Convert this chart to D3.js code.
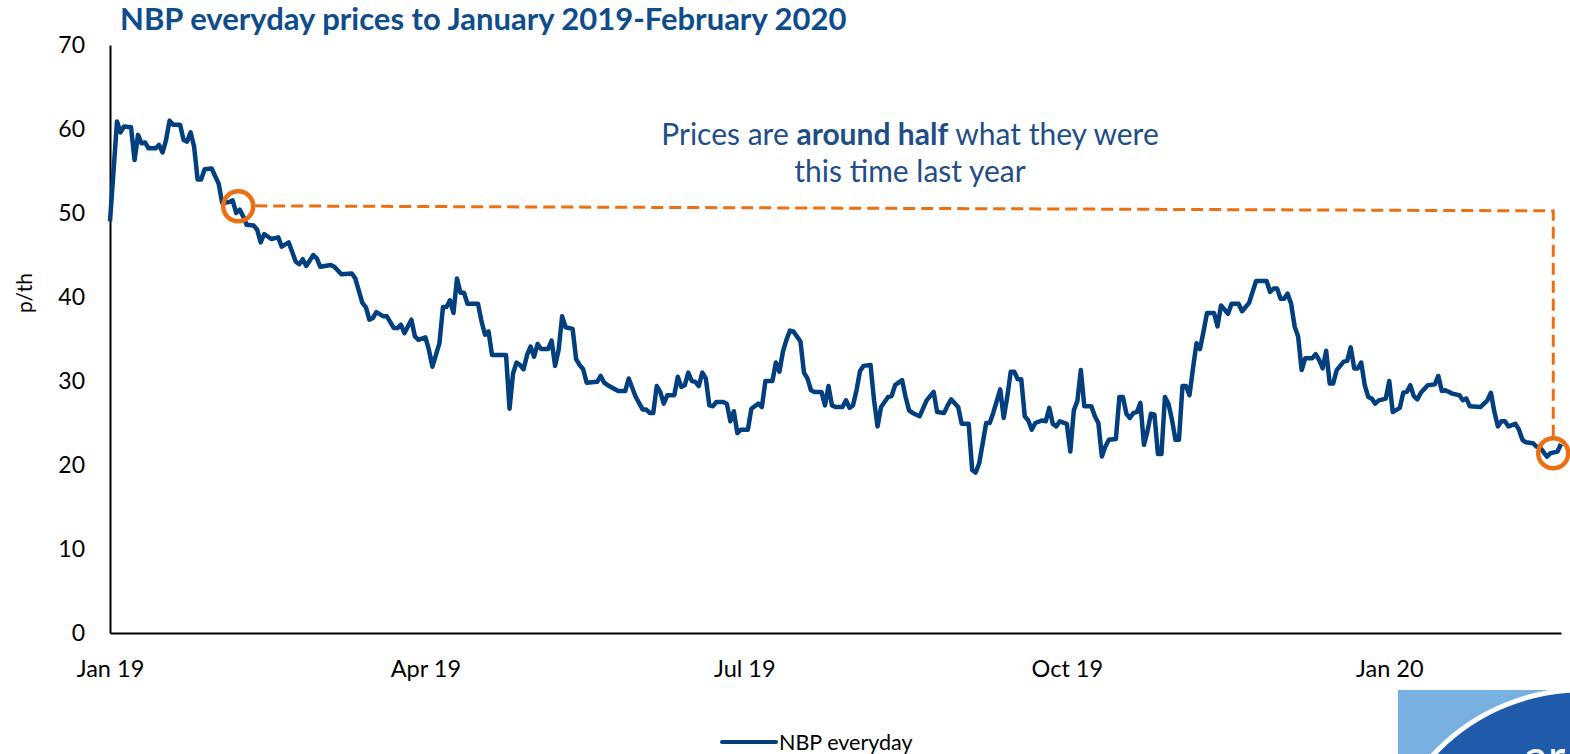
<!DOCTYPE html>
<html>
<head>
<meta charset="utf-8">
<script src="https://cdn.jsdelivr.net/npm/d3@7"></script>
<style>
  body { margin: 0; background: #fff; overflow: hidden; }
  svg { display: block; font-family: Lato, "Open Sans", sans-serif; }
</style>
</head>
<body>
<div id="chart"></div>
<script>
// NBP everyday price (p/th). Days counted from 1 Jan 2019.
const dayOffsets = [0,2,3,4,6,7,8,9,10,11,13,14,15,16,17,18,20,21,22,23,24,25,26,27,29,31,32,34,35,36,37,38,39,41,42,43,44,46,48,49,51,53,54,55,56,58,59,60,63,64,66,69,70,72,73,74,75,76,78,79,81,82,83,84,86,87,88,90,91,92,94,95,96,97,98,99,100,101,102,105,106,107,108,109,113,114,115,116,117,118,119,120,121,122,123,125,126,127,128,129,130,132,133,134,135,136,139,140,141,142,145,147,148,150,152,153,154,155,156,157,158,159,161,162,163,164,165,166,167,168,169,170,171,172,173,175,176,177,178,179,180,182,183,185,186,187,189,190,191,192,193,194,195,197,198,199,200,201,203,204,205,206,207,209,210,211,212,213,214,215,217,218,219,220,222,223,224,226,227,228,229,231,233,235,236,238,239,240,242,243,245,246,247,248,250,251,252,254,255,256,257,258,259,260,261,262,263,264,266,267,268,269,270,271,273,274,275,276,277,278,280,281,282,283,284,285,287,288,289,290,291,292,293,294,295,296,297,298,299,300,301,302,303,304,305,306,307,308,309,310,311,312,313,315,316,317,319,320,322,323,325,326,327,330,331,332,333,334,335,336,337,338,339,340,341,343,344,345,346,347,348,349,350,352,353,354,355,356,357,358,359,360,361,362,364,365,366,368,369,370,371,372,373,374,376,378,379,380,381,383,385,386,387,388,391,393,394,395,396,397,398,399,401,402,403,404,406,407,408,410,411,412,413,414];
const prices = [49.0,60.9,59.6,60.3,60.2,56.3,59.3,58.3,58.4,57.7,57.7,58.1,57.2,58.7,61.0,60.5,60.5,58.7,58.5,59.6,57.9,54.0,54.0,55.2,55.3,53.5,51.2,51.3,51.5,50.0,50.4,49.6,48.6,48.5,48.0,46.5,47.5,46.9,47.1,46.0,46.5,44.2,43.9,44.5,43.7,45.0,44.6,43.6,43.8,43.6,42.7,42.8,42.2,39.3,38.8,37.3,37.5,38.2,37.7,37.7,36.3,36.3,36.7,35.7,37.3,35.3,34.9,35.2,33.7,31.7,34.5,38.8,38.8,39.6,38.1,42.2,40.5,40.5,39.2,39.2,37.1,35.5,35.9,33.1,33.1,26.7,30.9,32.2,31.9,31.4,33.1,34.1,32.9,34.4,33.8,33.8,34.8,31.8,33.7,37.7,36.4,36.2,32.6,31.9,31.4,29.8,29.9,30.6,29.8,29.5,28.8,28.8,30.3,28.1,26.6,26.6,26.2,26.2,29.4,28.7,27.3,28.3,28.3,30.5,29.3,29.5,31.0,30.0,29.9,29.4,31.0,30.3,27.1,27.0,27.5,27.5,27.3,25.2,26.4,23.8,24.2,24.2,26.7,27.3,26.9,30.0,30.0,32.2,31.1,33.5,34.9,36.0,35.9,34.7,31.0,30.3,28.9,28.7,28.7,27.1,29.4,27.1,26.9,26.9,27.7,26.8,27.1,28.9,31.2,31.8,31.9,27.7,24.6,26.9,28.1,28.2,29.5,30.1,28.1,26.5,26.2,25.8,27.7,28.7,26.3,26.2,27.1,27.8,26.9,24.9,24.9,19.4,19.1,20.2,25.0,25.0,26.2,29.0,25.6,28.1,31.1,31.1,30.2,30.2,25.8,25.3,24.2,25.0,25.3,25.2,26.8,24.9,24.6,25.2,24.9,21.6,26.5,27.6,31.3,27.0,27.0,25.8,25.0,21.0,22.2,23.0,23.1,28.1,28.1,26.1,25.6,26.2,26.3,27.4,22.4,24.0,26.1,26.0,21.3,21.3,28.1,27.3,25.4,23.0,23.0,29.4,29.4,28.3,31.5,34.5,33.8,35.9,38.1,38.1,36.5,39.0,38.0,39.2,39.2,38.3,39.3,40.6,41.9,41.9,40.6,41.0,41.0,39.8,39.8,40.4,39.2,36.5,35.3,31.3,32.7,32.7,33.2,32.5,31.5,33.6,29.7,29.7,31.3,32.3,32.4,34.0,31.5,31.5,32.2,29.5,28.1,27.9,27.3,27.7,27.9,30.0,26.3,26.8,28.6,28.7,29.5,28.2,27.8,28.6,29.5,29.6,30.6,28.8,28.9,28.5,28.3,27.7,27.9,27.0,26.9,27.7,28.6,26.3,24.6,25.2,25.2,24.6,24.9,24.2,23.0,22.7,22.6,22.2,22.1,21.0,21.4,21.5,21.6,22.5];

const yTicks = [0, 10, 20, 30, 40, 50, 60, 70];
const xTickDates = ["2019-01-01", "2019-04-01", "2019-07-01", "2019-10-01", "2020-01-01"];
const startDate = "2019-01-01";
const endDate = "2020-02-19";

// the two circled points and the level of the dashed guide
const calloutDates = ["2019-02-06T14:00", "2020-02-16T19:00"];
const calloutValues = [50.8, 21.4];
const guideValues = [50.85, 50.25];

const navy = "#023F7E";
const orange = "#EC7011";

Chart();

function Chart() {
  const margin = { top: 45, right: 9, bottom: 121, left: 110 };
  const width = 1570 - margin.left - margin.right;
  const height = 754 - margin.top - margin.bottom;

  const parse = d3.isoParse;
  const start = parse(startDate);
  const data = dayOffsets.map((d, i) => ({ date: d3.timeDay.offset(start, d), value: prices[i] }));

  const root = d3.select("#chart")
    .append("svg")
    .attr("width", width + margin.left + margin.right)
    .attr("height", height + margin.top + margin.bottom);

  const svg = root.append("g")
    .attr("transform", `translate(${margin.left}, ${margin.top})`);

  // scales
  const x = d3.scaleTime()
    .domain([start, parse(endDate)])
    .range([0, width]);

  const y = d3.scaleLinear()
    .domain([0, 70])
    .range([height, 0]);

  // title
  root.append("text")
    .attr("x", 120)
    .attr("y", 30)
    .attr("fill", "#0E4C8B")
    .style("font-size", "31px")
    .style("font-weight", "bold")
    .text("NBP everyday prices to January 2019-February 2020");

  // y axis
  svg.append("g")
    .call(d3.axisLeft(y).tickValues(yTicks).tickSize(0).tickPadding(25))
    .call(g => g.select(".domain").attr("stroke", "#000").attr("stroke-width", 2))
    .call(g => g.selectAll("text").style("font-size", "23px").attr("fill", "#000").style("font-family", "Lato, sans-serif"));

  svg.append("text")
    .attr("transform", `translate(${32 - margin.left}, 248) rotate(-90)`)
    .attr("text-anchor", "middle")
    .style("font-size", "21px")
    .text("p/th");

  // x axis
  svg.append("g")
    .attr("transform", `translate(0, ${height})`)
    .call(d3.axisBottom(x)
      .tickValues(xTickDates.map(parse))
      .tickFormat(d3.timeFormat("%b %y"))
      .tickSize(0))
    .call(g => g.select(".domain").attr("stroke", "#000").attr("stroke-width", 2))
    .call(g => g.selectAll("text")
      .attr("y", 44).attr("dy", 0)
      .style("font-size", "23.5px").attr("fill", "#000").style("font-family", "Lato, sans-serif"));

  // price line
  const line = d3.line()
    .x(d => x(d.date))
    .y(d => y(d.value));

  svg.append("path")
    .datum(data)
    .attr("fill", "none")
    .attr("stroke", navy)
    .attr("stroke-width", 4.5)
    .attr("stroke-linejoin", "round")
    .attr("d", line);

  // callout: dashed guide between the circled points
  const c1 = [x(parse(calloutDates[0])), y(calloutValues[0])];
  const c2 = [x(parse(calloutDates[1])), y(calloutValues[1])];
  const r = 15;

  svg.append("path")
    .attr("fill", "none")
    .attr("stroke", orange)
    .attr("stroke-width", 3)
    .attr("stroke-dasharray", "12,6")
    .attr("d", `M${c1[0] + r + 2},${y(guideValues[0])} L${c2[0]},${y(guideValues[1])} L${c2[0]},${c2[1] - r - 2}`);

  svg.selectAll(".callout")
    .data([c1, c2])
    .enter()
    .append("circle")
    .attr("class", "callout")
    .attr("cx", d => d[0])
    .attr("cy", d => d[1])
    .attr("r", r)
    .attr("fill", "none")
    .attr("stroke", orange)
    .attr("stroke-width", 4.5);

  const note = root.append("text")
    .attr("text-anchor", "middle")
    .attr("fill", "#1F4E86")
    .style("font-size", "30px");

  const l1 = note.append("tspan").attr("x", 910).attr("y", 145);
  l1.append("tspan").text("Prices are ");
  l1.append("tspan").style("font-weight", "bold").text("around half");
  l1.append("tspan").text(" what they were");
  note.append("tspan").attr("x", 910).attr("y", 182).text("this time last year");

  // legend
  const legend = root.append("g").attr("transform", "translate(722, 742)");
  legend.append("line")
    .attr("x1", 0).attr("x2", 54)
    .attr("stroke", navy)
    .attr("stroke-width", 4)
    .attr("stroke-linecap", "round");
  legend.append("text")
    .attr("x", 57)
    .attr("y", 8)
    .style("font-size", "21.5px")
    .text("NBP everyday");

  // corner logo, cut off by the page edge as in the original
  const logo = root.append("g");
  logo.append("rect")
    .attr("x", 1398).attr("y", 690)
    .attr("width", 180).attr("height", 70)
    .attr("fill", "#77B0E1");
  logo.append("circle")
    .attr("cx", 1582).attr("cy", 893).attr("r", 203)
    .attr("fill", "#1F5BAA")
    .attr("stroke", "#fff")
    .attr("stroke-width", 5);
  logo.append("text")
    .attr("x", 1524).attr("y", 774)
    .attr("fill", "#fff")
    .style("font-size", "48px")
    .text("ar");
}
</script>
</body>
</html>
